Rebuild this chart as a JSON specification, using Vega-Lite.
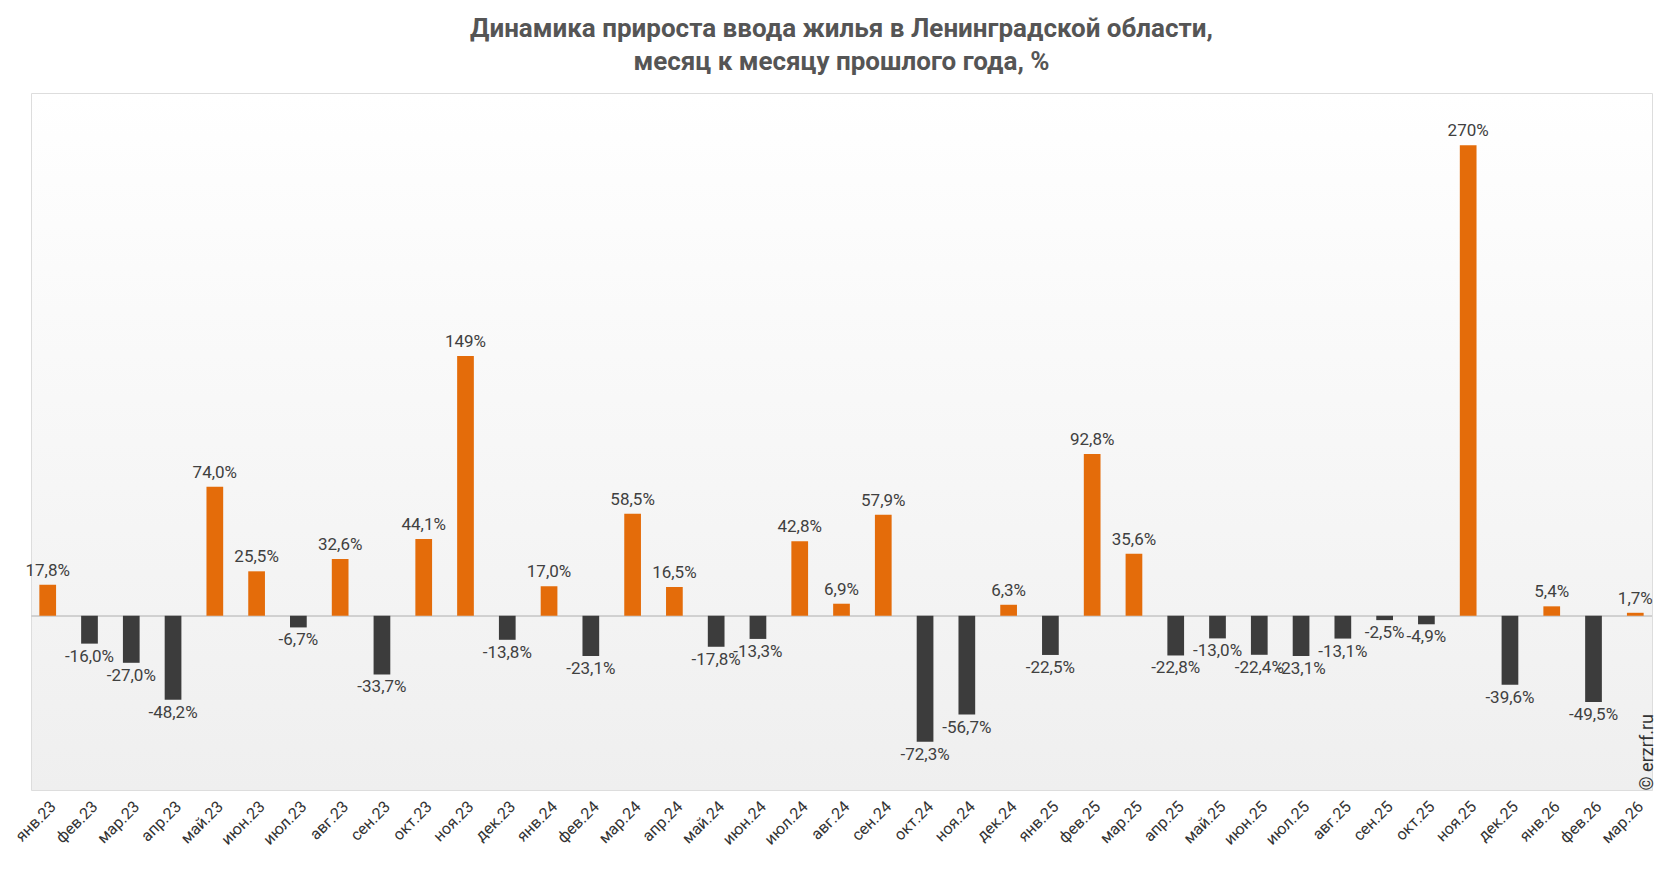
{
"$schema":"https://vega.github.io/schema/vega-lite/v6.json",
"width":1666,"height":872,
"autosize":{"type":"fit","contains":"padding"},
"padding":{"left":12,"right":10,"top":16,"bottom":24},
"background":"white",
"title":{"text":["Динамика прироста ввода жилья в Ленинградской области,","месяц к месяцу прошлого года, %"],"font":"Roboto","fontSize":26,"fontWeight":"bold","color":"#555555","lineHeight":33,"offset":18},
"config":{"font":"Roboto","view":{"stroke":"#dddddd","fill":{"gradient":"linear","x1":0,"y1":0,"x2":0,"y2":1,"stops":[{"offset":0,"color":"#ffffff"},{"offset":1,"color":"#efefef"}]}}},
"data":{"values":[
{"m":"янв.23","v":17.8,"l":"17,8%"},{"m":"фев.23","v":-16.0,"l":"-16,0%"},{"m":"мар.23","v":-27.0,"l":"-27,0%"},{"m":"апр.23","v":-48.2,"l":"-48,2%"},{"m":"май.23","v":74.0,"l":"74,0%"},{"m":"июн.23","v":25.5,"l":"25,5%"},{"m":"июл.23","v":-6.7,"l":"-6,7%"},{"m":"авг.23","v":32.6,"l":"32,6%"},{"m":"сен.23","v":-33.7,"l":"-33,7%"},{"m":"окт.23","v":44.1,"l":"44,1%"},{"m":"ноя.23","v":149,"l":"149%"},{"m":"дек.23","v":-13.8,"l":"-13,8%"},
{"m":"янв.24","v":17.0,"l":"17,0%"},{"m":"фев.24","v":-23.1,"l":"-23,1%"},{"m":"мар.24","v":58.5,"l":"58,5%"},{"m":"апр.24","v":16.5,"l":"16,5%"},{"m":"май.24","v":-17.8,"l":"-17,8%"},{"m":"июн.24","v":-13.3,"l":"-13,3%"},{"m":"июл.24","v":42.8,"l":"42,8%"},{"m":"авг.24","v":6.9,"l":"6,9%"},{"m":"сен.24","v":57.9,"l":"57,9%"},{"m":"окт.24","v":-72.3,"l":"-72,3%"},{"m":"ноя.24","v":-56.7,"l":"-56,7%"},{"m":"дек.24","v":6.3,"l":"6,3%"},
{"m":"янв.25","v":-22.5,"l":"-22,5%"},{"m":"фев.25","v":92.8,"l":"92,8%"},{"m":"мар.25","v":35.6,"l":"35,6%"},{"m":"апр.25","v":-22.8,"l":"-22,8%"},{"m":"май.25","v":-13.0,"l":"-13,0%"},{"m":"июн.25","v":-22.4,"l":"-22,4%"},{"m":"июл.25","v":-23.1,"l":"-23,1%"},{"m":"авг.25","v":-13.1,"l":"-13,1%"},{"m":"сен.25","v":-2.5,"l":"-2,5%"},{"m":"окт.25","v":-4.9,"l":"-4,9%"},{"m":"ноя.25","v":270,"l":"270%"},{"m":"дек.25","v":-39.6,"l":"-39,6%"},
{"m":"янв.26","v":5.4,"l":"5,4%"},{"m":"фев.26","v":-49.5,"l":"-49,5%"},{"m":"мар.26","v":1.7,"l":"1,7%"}
]},
"encoding":{
"x":{"field":"m","type":"nominal","sort":null,"scale":{"paddingInner":0.6,"paddingOuter":0.2},"axis":{"title":null,"labelAngle":-45,"labelFontSize":16,"labelColor":"#333333","ticks":false,"domain":false,"labelPadding":8}},
"y":{"field":"v","type":"quantitative","scale":{"domain":[-100,300],"nice":false},"axis":{"orient":"right","labels":false,"ticks":false,"domain":false,"grid":false,"title":"© erzrf.ru","titleFontSize":18,"titleColor":"#333333","titleFontWeight":"normal","titleAngle":270,"titleAnchor":"start","titlePadding":4}}
},
"layer":[
{"mark":{"type":"rule","color":"#d0d0d0"},"encoding":{"x":null,"y":{"datum":0}}},
{"mark":{"type":"bar"},"encoding":{"y2":{"datum":0},"color":{"condition":{"test":"datum.v>0","value":"#E46C0A"},"value":"#3C3C3C"}}},
{"transform":[{"filter":"datum.v>0"}],"mark":{"type":"text","baseline":"bottom","dy":-5,"fontSize":17,"color":"#404040"},"encoding":{"text":{"field":"l"}}},
{"transform":[{"filter":"datum.v<=0"}],"mark":{"type":"text","baseline":"top","dy":5,"fontSize":17,"color":"#404040"},"encoding":{"text":{"field":"l"}}}
]
}
